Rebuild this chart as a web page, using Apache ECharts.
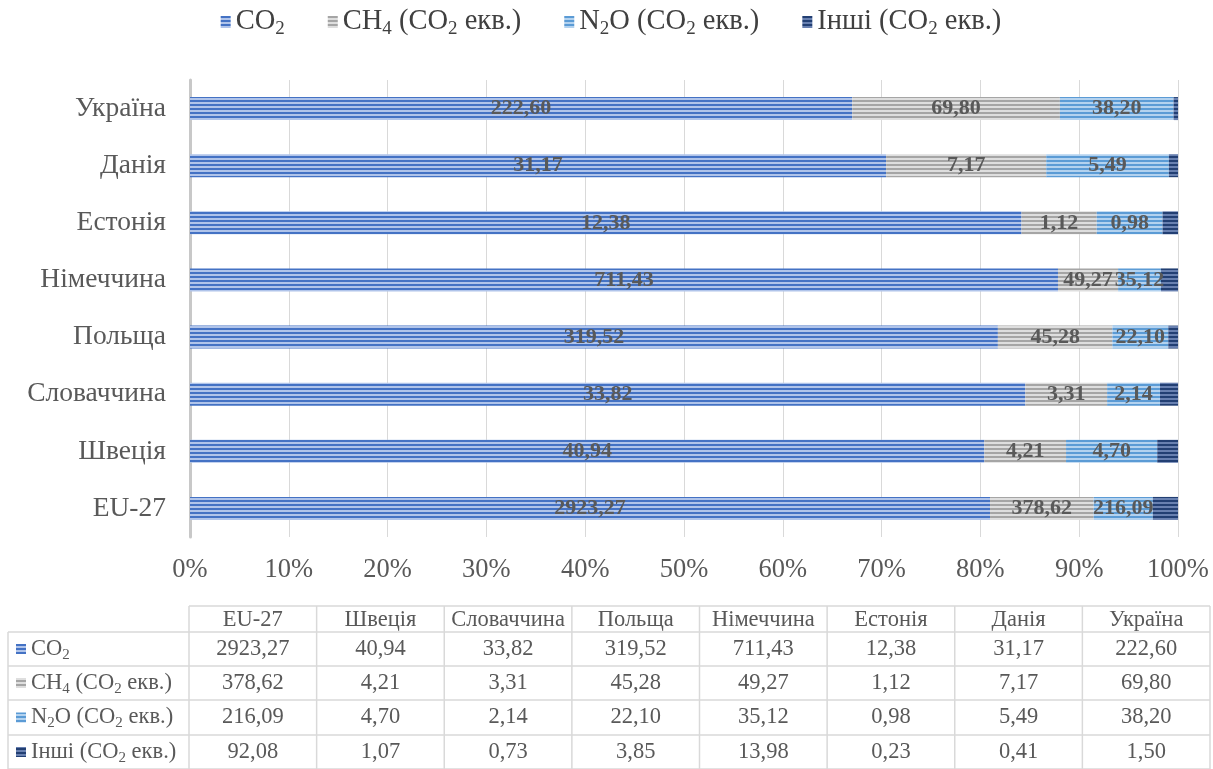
<!DOCTYPE html>
<html><head><meta charset="utf-8">
<script src="https://cdn.jsdelivr.net/npm/echarts@6/dist/echarts.min.js"></script>
<style>html,body{margin:0;padding:0;background:#fff}#c{width:1213px;height:769px}</style>
</head><body><div id="c"></div>
<script>
// ---- data ----
const categories = ['EU-27','Швеція','Словаччина','Польща','Німеччина','Естонія','Данія','Україна'];
const co2   = [2923.27, 40.94, 33.82, 319.52, 711.43, 12.38, 31.17, 222.60];
const ch4   = [378.62, 4.21, 3.31, 45.28, 49.27, 1.12, 7.17, 69.80];
const n2o   = [216.09, 4.70, 2.14, 22.10, 35.12, 0.98, 5.49, 38.20];
const other = [92.08, 1.07, 0.73, 3.85, 13.98, 0.23, 0.41, 1.50];
const seriesKeys = ['CO2', 'CH4', 'N2O', 'Other'];
// series names split into normal (t) and subscript (s) runs
const seriesParts = [
  [['t', 'CO'], ['s', '2']],
  [['t', 'CH'], ['s', '4'], ['t', ' (CO'], ['s', '2'], ['t', ' екв.)']],
  [['t', 'N'], ['s', '2'], ['t', 'O (CO'], ['s', '2'], ['t', ' екв.)']],
  [['t', 'Інші (CO'], ['s', '2'], ['t', ' екв.)']]
];
const xTickLabelSuffix = '%';

const FONT = 'Liberation Serif';
const TXT = '#595959';

const toRich = parts => parts.map(p => '{' + p[0] + '|' + p[1] + '}').join('');

function stripes(dark, light) {
  const c = document.createElement('canvas');
  c.width = 4; c.height = 4;
  const g = c.getContext('2d');
  g.fillStyle = light; g.fillRect(0, 0, 4, 4);
  g.fillStyle = dark; g.fillRect(0, 0, 4, 2);
  return { image: c, repeat: 'repeat' };
}
const patterns = [
  stripes('#4472c4', '#b0c4ea'),
  stripes('#a5a5a5', '#dedede'),
  stripes('#5b9bd5', '#b3d2ef'),
  stripes('#223f73', '#6880b0')
];

const allData = [co2, ch4, n2o, other];
const totals = categories.map((_, i) => allData.reduce((s, a) => s + a[i], 0));
const fmt = v => v.toFixed(2).replace('.', ',');

const chart = echarts.init(document.getElementById('c'), null, { renderer: 'canvas' });

const series = allData.map((arr, si) => ({
  name: seriesKeys[si],
  type: 'bar',
  stack: 'total',
  barWidth: 23,
  data: arr.map((v, i) => v / totals[i] * 100),
  itemStyle: { color: patterns[si] },
  label: {
    show: si < 3,
    position: 'inside',
    color: TXT,
    fontFamily: FONT,
    fontWeight: 'bold',
    fontSize: 22,
    formatter: p => fmt(arr[p.dataIndex])
  },
  emphasis: { disabled: true }
}));

const richStyles = (size, subSize, color) => ({
  t: { font: size + 'px "' + FONT + '"', fontSize: size, fontFamily: FONT, fill: color, lineHeight: size + 4, verticalAlign: 'middle' },
  s: { font: subSize + 'px "' + FONT + '"', fontSize: subSize, fontFamily: FONT, fill: color, lineHeight: subSize, verticalAlign: 'bottom' }
});

chart.setOption({
  animation: false,
  backgroundColor: '#fff',
  textStyle: { fontFamily: FONT },
  grid: { left: 190, right: 35, top: 80, bottom: 232, containLabel: false },
  xAxis: {
    type: 'value', min: 0, max: 100, interval: 10,
    axisLine: { show: false }, axisTick: { show: false },
    splitLine: { lineStyle: { color: '#d9d9d9', width: 1 } },
    axisLabel: { formatter: '{value}' + xTickLabelSuffix, fontFamily: FONT, fontSize: 26.5, color: TXT, margin: 20 }
  },
  yAxis: {
    type: 'category', data: categories,
    axisLine: { show: true, lineStyle: { color: '#c8c8c8', width: 3 } },
    axisTick: { show: false },
    axisLabel: { fontFamily: FONT, fontSize: 27.5, color: TXT, margin: 24 }
  },
  series: series
});

const g = [];

// ---- legend (drawn as graphic so the serif font and subscripts render) ----
const mctx = document.createElement('canvas').getContext('2d');
function partsWidth(parts, size, subSize) {
  let w = 0;
  parts.forEach(p => {
    mctx.font = (p[0] === 's' ? subSize : size) + 'px "' + FONT + '"';
    w += mctx.measureText(p[1]).width;
  });
  return w;
}
const LS = 28.5, LSS = 19, LCOL = '#404040';
const iconW = 10, iconGap = 5, itemGap = 43;
const widths = seriesParts.map(p => partsWidth(p, LS, LSS));
const totalW = widths.reduce((s, w) => s + iconW + iconGap + w, 0) + itemGap * (widths.length - 1);
let lx = 611 - totalW / 2;
const legendRich = richStyles(LS, LSS, LCOL);
seriesParts.forEach((parts, si) => {
  g.push({ type: 'rect', shape: { x: lx, y: 16, width: iconW, height: 12 }, style: { fill: patterns[si] } });
  g.push({ type: 'text', style: { text: toRich(parts), rich: legendRich, x: lx + iconW + iconGap, y: 22, align: 'left', verticalAlign: 'middle', font: LS + 'px "' + FONT + '"', fill: LCOL } });
  lx += iconW + iconGap + widths[si] + itemGap;
});

// ---- data table below the chart ----
const tLeft = 8, tColStart = 189, tRight = 1210;
const colW = (tRight - tColStart) / categories.length;
const colX = categories.map((_, i) => tColStart + i * colW).concat([tRight]);
const rowY = [606, 632, 666, 700, 735, 769];
const LINE = '#d9d9d9';
g.push({ type: 'line', shape: { x1: tColStart, y1: rowY[0], x2: tRight, y2: rowY[0] }, style: { stroke: LINE, lineWidth: 1.5 } });
for (let r = 1; r < rowY.length; r++) {
  g.push({ type: 'line', shape: { x1: tLeft, y1: rowY[r], x2: tRight, y2: rowY[r] }, style: { stroke: LINE, lineWidth: 1.5 } });
}
g.push({ type: 'line', shape: { x1: tLeft, y1: rowY[1], x2: tLeft, y2: 769 }, style: { stroke: LINE, lineWidth: 1.5 } });
colX.forEach(x => g.push({ type: 'line', shape: { x1: x, y1: rowY[0], x2: x, y2: 769 }, style: { stroke: LINE, lineWidth: 1.5 } }));
const TS = 22.5;
const tRich = richStyles(TS, 15, TXT);
categories.forEach((c, i) => {
  g.push({ type: 'text', style: { text: c, x: (colX[i] + colX[i + 1]) / 2, y: (rowY[0] + rowY[1]) / 2 + 1, align: 'center', verticalAlign: 'middle', font: TS + 'px "' + FONT + '"', fill: TXT } });
});
allData.forEach((arr, si) => {
  const yc = (rowY[si + 1] + rowY[si + 2]) / 2;
  g.push({ type: 'rect', shape: { x: 16, y: yc - 5, width: 10, height: 10 }, style: { fill: patterns[si] } });
  g.push({ type: 'text', style: { text: toRich(seriesParts[si]), rich: tRich, x: 31, y: yc, align: 'left', verticalAlign: 'middle', font: TS + 'px "' + FONT + '"', fill: TXT } });
  arr.forEach((v, i) => {
    g.push({ type: 'text', style: { text: fmt(v), x: (colX[i] + colX[i + 1]) / 2, y: yc, align: 'center', verticalAlign: 'middle', font: TS + 'px "' + FONT + '"', fill: TXT } });
  });
});
chart.setOption({ graphic: g });
</script>
</body></html>
